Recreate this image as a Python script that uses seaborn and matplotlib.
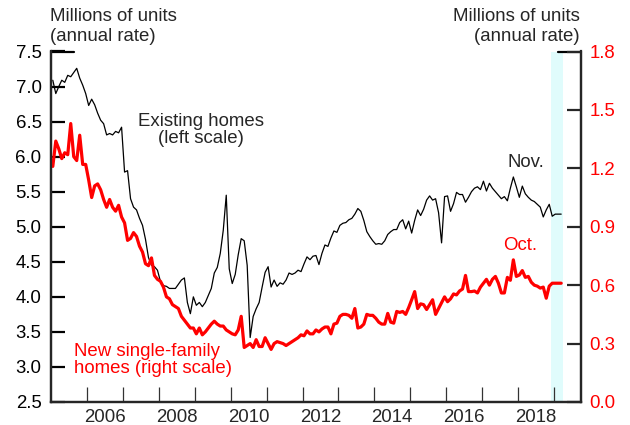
import numpy as np
import pandas as pd
import matplotlib
matplotlib.use('Agg')
import matplotlib.pyplot as plt
import seaborn as sns

sns.set_style('ticks')
plt.rcParams['font.family'] = ['Liberation Sans', 'DejaVu Sans']

# monthly values, Jan 2005 onward (millions of units, annual rate)
existing_homes = [
    7.09, 6.90, 7.00, 7.09, 7.06, 7.16, 7.14, 7.20, 7.26, 7.12,
    7.02, 6.90, 6.73, 6.82, 6.74, 6.62, 6.52, 6.47, 6.31, 6.33,
    6.31, 6.36, 6.34, 6.42, 5.78, 5.80, 5.40, 5.28, 5.24, 5.12,
    5.02, 4.82, 4.56, 4.45, 4.43, 4.38, 4.22, 4.16, 4.15, 4.12,
    4.12, 4.12, 4.18, 4.24, 4.27, 3.92, 3.76, 4.00, 3.88, 3.92,
    3.86, 3.92, 4.02, 4.12, 4.34, 4.42, 4.62, 4.95, 5.45, 4.40,
    4.19, 4.32, 4.60, 4.83, 4.80, 4.45, 3.42, 3.72, 3.83, 3.92,
    4.14, 4.35, 4.43, 4.14, 4.24, 4.15, 4.20, 4.18, 4.24, 4.34,
    4.32, 4.34, 4.38, 4.36, 4.47, 4.57, 4.53, 4.58, 4.59, 4.46,
    4.62, 4.74, 4.72, 4.84, 4.94, 4.92, 5.02, 5.05, 5.06, 5.10,
    5.12, 5.18, 5.26, 5.22, 5.09, 4.93, 4.86, 4.80, 4.75, 4.76,
    4.75, 4.80, 4.89, 4.93, 4.96, 4.96, 5.06, 5.10, 4.97, 5.08,
    4.91, 5.09, 5.24, 5.16, 5.25, 5.38, 5.44, 5.38, 5.40, 5.20,
    4.77, 5.43, 5.44, 5.22, 5.33, 5.49, 5.46, 5.46, 5.35, 5.42,
    5.50, 5.55, 5.57, 5.53, 5.65, 5.51, 5.62, 5.55, 5.50, 5.45,
    5.40, 5.43, 5.37, 5.55, 5.71, 5.57, 5.42, 5.58, 5.47, 5.42,
    5.38, 5.36, 5.32, 5.28, 5.14, 5.24, 5.32, 5.15, 5.18, 5.18, 5.18,
]

new_single_family = [
    1.21, 1.34, 1.30, 1.25, 1.28, 1.27, 1.43, 1.26, 1.24, 1.37,
    1.22, 1.22, 1.14, 1.05, 1.11, 1.12, 1.09, 1.04, 1.00, 1.04,
    1.00, 0.98, 1.01, 0.95, 0.92, 0.83, 0.84, 0.87, 0.85, 0.80,
    0.77, 0.71, 0.70, 0.74, 0.65, 0.63, 0.62, 0.59, 0.54, 0.53,
    0.50, 0.49, 0.48, 0.44, 0.42, 0.40, 0.38, 0.38, 0.35, 0.38,
    0.345, 0.36, 0.38, 0.40, 0.415, 0.40, 0.39, 0.39, 0.37, 0.36,
    0.35, 0.345, 0.37, 0.44, 0.28, 0.29, 0.30, 0.28, 0.32, 0.285,
    0.285, 0.33, 0.30, 0.27, 0.30, 0.31, 0.305, 0.30, 0.29, 0.30,
    0.31, 0.32, 0.33, 0.345, 0.34, 0.365, 0.35, 0.35, 0.37, 0.36,
    0.375, 0.385, 0.385, 0.35, 0.40, 0.405, 0.44, 0.45, 0.45, 0.445,
    0.43, 0.48, 0.38, 0.385, 0.40, 0.45, 0.445, 0.445, 0.43, 0.41,
    0.40, 0.40, 0.455, 0.41, 0.405, 0.465, 0.46, 0.465, 0.45, 0.485,
    0.525, 0.567, 0.48, 0.504, 0.50, 0.475, 0.50, 0.525, 0.45, 0.48,
    0.51, 0.54, 0.515, 0.53, 0.555, 0.55, 0.57, 0.58, 0.65, 0.567,
    0.567, 0.57, 0.56, 0.59, 0.61, 0.63, 0.60, 0.63, 0.645, 0.61,
    0.56, 0.56, 0.64, 0.625, 0.73, 0.645, 0.652, 0.675, 0.64, 0.645,
    0.615, 0.60, 0.595, 0.585, 0.59, 0.533, 0.595, 0.61, 0.61, 0.61, 0.61,
]

year_labels = [2006, 2008, 2010, 2012, 2014, 2016, 2018]
left_ticks = [2.5, 3.0, 3.5, 4.0, 4.5, 5.0, 5.5, 6.0, 6.5, 7.0, 7.5]
right_ticks = [0.0, 0.3, 0.6, 0.9, 1.2, 1.5, 1.8]
shade_span = (2018.92, 2019.26)

RED = '#ff0000'
FS = 13.4

months = pd.date_range('2005-01-01', periods=len(existing_homes), freq='MS')
t = months.year + (months.month - 0.5) / 12
df = pd.DataFrame({'t': t, 'existing': existing_homes, 'new': new_single_family})

fig = plt.figure(figsize=(6.3, 4.25), dpi=100)
ax = fig.add_axes([51.3 / 630, 23 / 425, 529.7 / 630, 350.5 / 425])
ax2 = ax.twinx()

ax.axvspan(*shade_span, color='#e0fcfc', lw=0, zorder=0)
sns.lineplot(data=df, x='t', y='existing', ax=ax, color='black', linewidth=0.9)
sns.lineplot(data=df, x='t', y='new', ax=ax2, color=RED, linewidth=2.3)

ax.set_xlim(2005.0, 2019.76)
ax.set_ylim(2.5, 7.5)
ax2.set_ylim(0, 1.8)
for a in (ax, ax2):
    a.set_xlabel('')
    a.set_ylabel('')
    a.spines['top'].set_visible(False)
    for s in ('left', 'right', 'bottom'):
        a.spines[s].set_linewidth(1.6)

ax.set_yticks(left_ticks)
ax.set_yticklabels([f'{v:.1f}' for v in left_ticks])
ax.tick_params(axis='y', direction='in', length=10, width=1.6, pad=7,
               labelsize=FS, colors='black')
ax2.set_yticks(right_ticks)
ax2.set_yticklabels([f'{v:.1f}' for v in right_ticks])
ax2.tick_params(axis='y', direction='in', length=10, width=1.6, pad=6,
                labelsize=FS, labelcolor=RED)

ax.set_xticks([y + 0.5 for y in year_labels])
ax.set_xticklabels([str(y) for y in year_labels])
ax.set_xticks(range(2006, 2020), minor=True)
ax.tick_params(axis='x', which='major', length=0, pad=5, labelsize=FS)
ax.tick_params(axis='x', which='minor', direction='in', length=10.5,
               width=0.9, color='#333333')

# longer caps at the top of both scales
ax.plot([0, 23 / 530], [1, 1], transform=ax.transAxes, color='black',
        lw=1.6, clip_on=False)
ax.plot([1 - 23 / 530, 1], [1, 1], transform=ax.transAxes, color='black',
        lw=1.6, clip_on=False)

fig.text(50 / 630, 1 - 8 / 425, 'Millions of units\n(annual rate)',
         ha='left', va='top', fontsize=FS, linespacing=1.25)
fig.text(580 / 630, 1 - 8 / 425, 'Millions of units\n(annual rate)',
         ha='right', va='top', fontsize=FS, linespacing=1.25, multialignment='right')
fig.text(201 / 630, 1 - 130 / 425, 'Existing homes\n(left scale)',
         ha='center', va='center', fontsize=FS, linespacing=0.95)
fig.text(74 / 630, 1 - 360 / 425, 'New single-family\nhomes (right scale)',
         ha='left', va='center', fontsize=FS, linespacing=0.95, color=RED)
fig.text(525.5 / 630, 1 - 162.5 / 425, 'Nov.', ha='center', va='center',
         fontsize=FS)
fig.text(520.5 / 630, 1 - 246 / 425, 'Oct.', ha='center', va='center',
         fontsize=FS, color=RED)

fig.savefig('out.png', dpi=100)
